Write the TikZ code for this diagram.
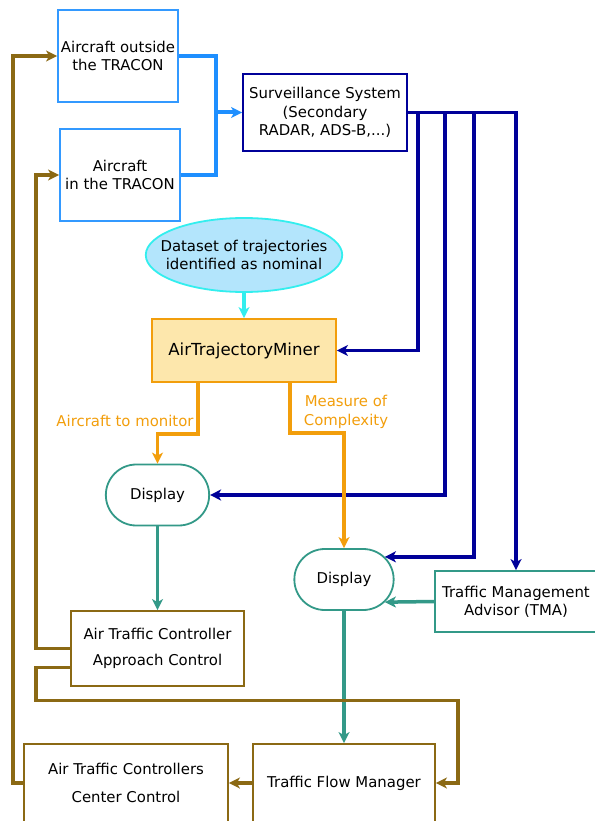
\documentclass[tikz,border=0pt]{standalone}
\usepackage{fontspec}
\setmainfont{DejaVu Sans}
\usetikzlibrary{arrows.meta,shapes.misc,shapes.geometric}
\definecolor{acblue}{HTML}{3399FF}
\definecolor{linkblue}{HTML}{1E8FFF}
\definecolor{survnavy}{HTML}{000099}
\definecolor{dataline}{HTML}{33EEEE}
\definecolor{datafill}{HTML}{B3E5FC}
\definecolor{minerline}{HTML}{F29E0C}
\definecolor{minerfill}{HTML}{FDE7AC}
\definecolor{dispteal}{HTML}{339988}
\definecolor{ctrlbrown}{HTML}{8B6914}

\begin{document}
\begin{tikzpicture}[x=1pt,y=-1pt,
    font=\fontsize{14.9}{18.3}\selectfont,
    box/.style={draw,line width=1.8pt,align=center,inner sep=2pt},
    disp/.style={rounded rectangle,draw=dispteal,line width=1.8pt,minimum height=61pt},
    link/.style={line width=3.5pt,-{Stealth[length=11pt,width=11pt,inset=3pt]}}]
    \useasboundingbox (0,0) rectangle (594,821);
    \node[box,draw=acblue,minimum width=120pt,minimum height=92pt] (acout) at (118,56) {Aircraft outside\\the TRACON};
    \node[box,draw=acblue,minimum width=120pt,minimum height=92pt] (acin) at (120,175) {Aircraft\\in the TRACON};
    \node[box,draw=survnavy,minimum width=164pt,minimum height=77pt] (surv) at (325,112.5) {Surveillance System\\(Secondary\\RADAR, ADS-B,...)};
    \node[ellipse,draw=dataline,fill=datafill,line width=1.8pt,align=center,inner sep=-14pt,minimum width=192pt,minimum height=74pt] (data) at (244,255) {Dataset of trajectories\\identified as nominal};
    \node[box,draw=minerline,fill=minerfill,minimum width=184pt,minimum height=63pt,font=\fontsize{16.6}{20}\selectfont] (atm) at (244,350.5) {AirTrajectoryMiner};
    \node[disp,minimum width=110pt] (disp1) at (157.5,495) {Display};
    \node[disp,minimum width=106pt] (disp2) at (344,579.5) {Display};
    \node[box,draw=dispteal,minimum width=162pt,minimum height=61pt] (tma) at (516,601.5) {Traffic Management\\Advisor (TMA)};
    \node[box,draw=ctrlbrown,minimum width=173pt,minimum height=75pt] (atca) at (157.5,648.5) {Air Traffic Controller\\[7.7pt]Approach Control};
    \node[box,draw=ctrlbrown,minimum width=204pt,minimum height=78pt] (atcc) at (126,783) {Air Traffic Controllers\\[9.7pt]Center Control};
    \node[box,draw=ctrlbrown,minimum width=182pt,minimum height=78pt] (tfm) at (344,783) {Traffic Flow Manager};
    \node[text=minerline] (lmon) at (125,421) {Aircraft to monitor};
    \node[text=minerline,align=center] (lcomp) at (346,412) {Measure of\\Complexity};
    \coordinate (bj) at (216,112.5);
    \draw[line width=4pt,linkblue] (acout.east) -| (bj);
    \draw[line width=4pt,linkblue] (acin.east) -| (bj);
    \draw[link,line width=4pt,linkblue] (bj) -- (surv.west);
    \draw[link,dataline] (data.south) -- (atm.north);
    \draw[link,survnavy] (surv.east) -- ++(10,0) |- (atm.east);
    \draw[link,survnavy] (surv.east) -- ++(37,0) |- (disp1.east);
    \draw[link,survnavy] (surv.east) -- ++(66,0) |- (disp2.29);
    \draw[link,survnavy] (surv.east) -| (tma.north);
    \draw[link,minerline] ([xshift=-46pt]atm.south) -- ++(0,51) -| (disp1.north);
    \draw[link,minerline] ([xshift=46pt]atm.south) -- ++(0,50) -| (disp2.north);
    \draw[link,dispteal] (tma.west) -- (disp2.-29);
    \draw[link,dispteal] (disp1.south) -- (atca.north);
    \draw[link,dispteal] (disp2.south) -- (tfm.north);
    \draw[link,ctrlbrown] (tfm.west) -- (atcc.east);
    \draw[link,ctrlbrown] (atca.west) -- ++(-34,0) |- (acin.west);
    \draw[link,ctrlbrown] ([yshift=-19pt]atca.west) -- ++(-34,0) -- ++(0,33) -| ([xshift=22pt]tfm.east) -- (tfm.east);
    \draw[link,ctrlbrown] (atcc.west) -- ++(-10,0) |- (acout.west);
\end{tikzpicture}
\end{document}
